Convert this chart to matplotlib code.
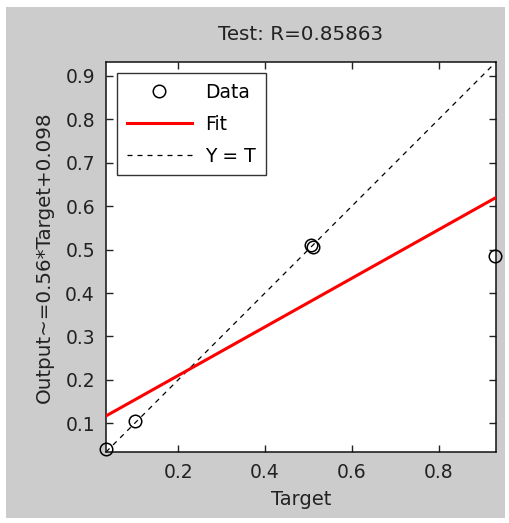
import numpy as np
import matplotlib
matplotlib.use("Agg")
import matplotlib.pyplot as plt
from matplotlib.patches import Rectangle

plt.rcParams['font.family'] = ['DejaVu Sans']

# Data
target = [0.035, 0.100, 0.505, 0.510, 0.930]
output = [0.042, 0.105, 0.510, 0.505, 0.485]
fit_slope = 0.56
fit_intercept = 0.098
title = "Test: R=0.85863"
xticks = [0.2, 0.4, 0.6, 0.8]
yticks = [0.1, 0.2, 0.3, 0.4, 0.5, 0.6, 0.7, 0.8, 0.9]

fig = plt.figure(figsize=(5.10, 5.23), dpi=100, facecolor='white')
fig.patches.append(Rectangle((6/510, 1-518/523), 499/510, 511/523,
                             transform=fig.transFigure, facecolor='#cccccc',
                             edgecolor='none', zorder=-10))

ax = fig.add_axes([106/510, 1-452/523, 390/510, 390/523])
lim = [0.034, 0.932]

xs = np.array(lim)
l1, = ax.plot(target, output, 'o', mfc='none', mec='black', ms=9, mew=1.1,
              label='Data', zorder=4, clip_on=False)
l2, = ax.plot(xs, fit_slope * xs + fit_intercept, '-', color='#ff0000', lw=2.2,
              label='Fit', zorder=3)
l3, = ax.plot(xs, xs, '--', color='black', lw=0.9, dashes=(4, 4),
              label='Y = T', zorder=2)

ax.set_xlim(lim)
ax.set_ylim(lim)
ax.set_xticks(xticks)
ax.set_yticks(yticks)
ax.set_xticklabels([f"{t:g}" for t in xticks])
ax.set_yticklabels([f"{t:g}" for t in yticks])
ax.tick_params(direction='in', length=5, width=1, top=True, right=True,
               labelsize=13.5, pad=8, colors='#222222')
for s in ax.spines.values():
    s.set_linewidth(1.1)
    s.set_color('#111111')

ax.set_title(title, fontsize=14.3, pad=16, color='#222222')
ax.set_xlabel('Target', fontsize=14, labelpad=6, color='#222222')
ax.set_ylabel('Output~=0.56*Target+0.098', fontsize=14.3, labelpad=8, color='#222222')

leg = ax.legend(handles=[l1, l2, l3], loc='upper left', fontsize=13.5,
                frameon=True, fancybox=False, edgecolor='black',
                borderaxespad=0.6, handlelength=3.5, handletextpad=0.7,
                labelspacing=0.7, borderpad=0.5)
leg.get_frame().set_linewidth(1.0)

fig.savefig('out.png', dpi=100, facecolor=fig.get_facecolor())
